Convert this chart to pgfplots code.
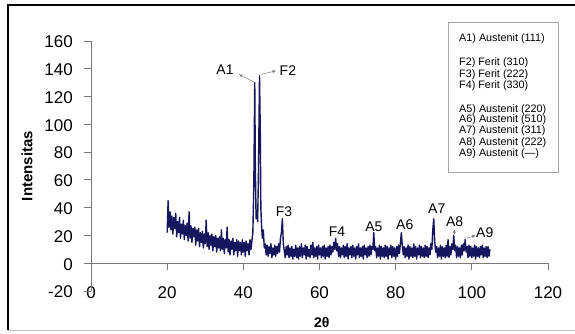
\documentclass[border=0pt]{standalone}
\usepackage{pgfplots}
\pgfplotsset{compat=1.18}
\usepackage{fontspec}
\setmainfont{Liberation Sans}
\usetikzlibrary{arrows.meta}
\definecolor{navy}{RGB}{22,22,95}
\definecolor{axgray}{RGB}{120,120,120}
\begin{document}
\begin{tikzpicture}
\begin{axis}[
  scale only axis, width=457pt, height=250pt,
  xmin=0, xmax=120, ymin=-20, ymax=160,
  axis line style={draw=none},
  major tick length=0pt,
  xtick={0,20,...,120}, ytick={-20,0,...,160},
  /pgf/number format/assume math mode=true,
  ticklabel style={font=\fontsize{17}{19}\selectfont},
  yticklabel style={anchor=east, inner sep=0pt, xshift=-18pt, yshift=-1pt},
  xticklabel style={anchor=center, inner sep=0pt, yshift=-2pt},
  xlabel={\textbf{2θ}},
  xlabel style={at={(axis description cs:0.505,-0.124)}, anchor=center, font=\fontsize{14}{16}\selectfont},
  ylabel={\textbf{Intensitas}},
  ylabel style={at={(axis description cs:-0.14,0.5)}, anchor=center, font=\fontsize{15}{17}\selectfont},
  clip=false,
]
% axis lines (Excel style)
\draw[axgray, line width=0.8pt] (axis cs:0,-20) -- (axis cs:0,160);
\draw[axgray, line width=0.8pt] (axis cs:0,0) -- (axis cs:120,0);
\pgfplotsinvokeforeach{-20,0,20,40,60,80,100,120,140,160}{ \draw[axgray, line width=0.8pt] (axis cs:0,#1) -- ++(-7pt,0pt); }
\pgfplotsinvokeforeach{20,40,60,80,100,120}{ \draw[axgray, line width=0.8pt] (axis cs:#1,0) -- ++(0pt,-7pt); }

\addplot[navy, line width=1.4pt, mark=none, line join=round] coordinates {
(20.00,22) (20.25,45) (20.50,26) (20.75,37) (21.00,24) (21.25,34) (21.50,21) (21.75,33)
(22.00,25) (22.25,36) (22.50,19) (22.75,30) (23.00,22) (23.25,33) (23.50,18) (23.75,28)
(24.00,21) (24.25,31) (24.50,17) (24.75,27) (25.00,20) (25.25,29) (25.50,16) (25.75,37)
(26.00,18) (26.25,27) (26.50,15) (26.75,25) (27.00,19) (27.25,26) (27.50,13) (27.75,24)
(28.00,16) (28.25,25) (28.50,12) (28.75,22) (29.00,15) (29.25,23) (29.50,11) (29.75,21)
(30.00,14) (30.25,31) (30.50,12) (30.75,22) (31.00,10) (31.25,20) (31.50,13) (31.75,21)
(32.00,9) (32.25,19) (32.50,12) (32.75,20) (33.00,8) (33.25,18) (33.50,11) (33.75,19)
(34.00,9) (34.25,24) (34.50,10) (34.75,18) (35.00,7) (35.25,17) (35.50,11) (35.75,26)
(36.00,8) (36.25,17) (36.50,6) (36.75,16) (37.00,10) (37.25,18) (37.50,6) (37.75,15)
(38.00,9) (38.25,17) (38.50,5) (38.75,16) (39.00,9) (39.25,15) (39.50,6) (39.75,17)
(40.00,8) (40.25,15) (40.50,5) (40.75,16) (41.00,9) (41.25,14) (41.50,6) (41.75,17)
(42.00,10) (42.25,16) (42.50,22) (42.75,55) (43.00,130) (43.15,70) (43.35,32) (43.55,38)
(43.75,30) (43.95,60) (44.25,135) (44.45,95) (44.60,40) (44.80,26) (45.00,18) (45.25,24)
(45.50,11) (45.75,14) (46.00,6) (46.25,13) (46.50,5) (46.75,12) (47.00,7) (47.25,14)
(47.50,4) (47.75,11) (48.00,6) (48.25,13) (48.50,5) (48.75,12) (49.00,7) (49.25,14)
(49.50,8) (49.75,18) (50.00,22) (50.25,32) (50.50,14) (50.75,9) (51.00,4) (51.25,12)
(51.50,6) (51.75,13) (52.00,4) (52.25,11) (52.50,5) (52.75,12) (53.00,3) (53.25,10)
(53.50,5) (53.75,13) (54.00,4) (54.25,11) (54.50,3) (54.75,12) (55.00,5) (55.25,14)
(55.50,4) (55.75,11) (56.00,6) (56.25,13) (56.50,3) (56.75,12) (57.00,5) (57.25,10)
(57.50,4) (57.75,13) (58.00,6) (58.25,15) (58.50,4) (58.75,11) (59.00,5) (59.25,12)
(59.50,3) (59.75,13) (60.00,6) (60.25,11) (60.50,4) (60.75,12) (61.00,5) (61.25,13)
(61.50,3) (61.75,11) (62.00,5) (62.25,12) (62.50,4) (62.75,13) (63.00,6) (63.25,12)
(63.50,8) (63.75,15) (64.00,10) (64.25,18) (64.50,9) (64.75,14) (65.00,5) (65.25,12)
(65.50,4) (65.75,11) (66.00,6) (66.25,13) (66.50,4) (66.75,12) (67.00,5) (67.25,14)
(67.50,3) (67.75,11) (68.00,6) (68.25,12) (68.50,4) (68.75,13) (69.00,5) (69.25,11)
(69.50,3) (69.75,12) (70.00,6) (70.25,14) (70.50,4) (70.75,11) (71.00,5) (71.25,12)
(71.50,3) (71.75,13) (72.00,6) (72.25,11) (72.50,4) (72.75,12) (73.00,5) (73.25,13)
(73.50,6) (73.75,12) (74.00,10) (74.25,22) (74.50,9) (74.75,12) (75.00,4) (75.25,11)
(75.50,5) (75.75,13) (76.00,3) (76.25,12) (76.50,5) (76.75,11) (77.00,4) (77.25,13)
(77.50,5) (77.75,12) (78.00,3) (78.25,11) (78.50,6) (78.75,13) (79.00,4) (79.25,12)
(79.50,5) (79.75,11) (80.00,3) (80.25,12) (80.50,5) (80.75,13) (81.00,7) (81.25,15)
(81.50,22) (81.75,12) (82.00,6) (82.25,12) (82.50,4) (82.75,11) (83.00,5) (83.25,13)
(83.50,3) (83.75,12) (84.00,5) (84.25,11) (84.50,4) (84.75,14) (85.00,5) (85.25,12)
(85.50,3) (85.75,11) (86.00,6) (86.25,13) (86.50,4) (86.75,12) (87.00,5) (87.25,11)
(87.50,4) (87.75,13) (88.00,5) (88.25,12) (88.50,4) (88.75,11) (89.00,6) (89.25,14)
(89.50,10) (89.75,24) (90.00,32) (90.25,16) (90.50,8) (90.75,12) (91.00,4) (91.25,11)
(91.50,5) (91.75,13) (92.00,3) (92.25,12) (92.50,5) (92.75,11) (93.00,4) (93.25,13)
(93.50,5) (93.75,17) (94.00,4) (94.25,12) (94.50,6) (94.75,14) (95.00,10) (95.25,20)
(95.50,9) (95.75,13) (96.00,4) (96.25,12) (96.50,5) (96.75,11) (97.00,4) (97.25,13)
(97.50,6) (97.75,14) (98.00,9) (98.25,17) (98.50,8) (98.75,12) (99.00,4) (99.25,13)
(99.50,5) (99.75,12) (100.00,4) (100.25,11) (100.50,5) (100.75,13) (101.00,3) (101.25,12)
(101.50,5) (101.75,11) (102.00,4) (102.25,12) (102.50,6) (102.75,13) (103.00,4) (103.25,11)
(103.50,5) (103.75,12) (104.00,4) (104.25,12) (104.50,5) (104.75,10)
};

% peak labels
\tikzset{pk/.style={font=\fontsize{14}{16}\selectfont, inner sep=0pt},
         pa/.style={draw=axgray, line width=0.5pt, -{Latex[length=3.5pt,width=3pt]}}}
\node[pk] at (axis cs:35.2,139) {A1};
\draw[pa] (axis cs:42.8,130.5) -- (axis cs:38.8,136);
\node[pk] at (axis cs:51.7,139) {F2};
\draw[pa] (axis cs:44.6,136) -- (axis cs:48.6,138.5);
\node[pk] at (axis cs:50.7,37) {F3};
\node[pk] at (axis cs:64.6,23) {F4};
\node[pk] at (axis cs:74.3,26) {A5};
\node[pk] at (axis cs:82.4,28) {A6};
\node[pk] at (axis cs:90.8,39) {A7};
\node[pk] at (axis cs:95.5,30) {A8};
\draw[pa] (axis cs:95.4,21) -- (axis cs:95.4,24.5);
\node[pk] at (axis cs:103.4,22.3) {A9};
\draw[pa] (axis cs:98.7,18) -- (axis cs:101,20);
\end{axis}

% legend box
\draw[gray!70, line width=0.6pt] (357pt,119pt) rectangle (467pt,269pt);
\begin{scope}[every node/.style={anchor=west, inner sep=0pt, font=\fontsize{10.8}{12}\selectfont}]
\node at (368pt,252pt) {A1) Austenit (111)};
\node at (368pt,228.3pt) {F2) Ferit (310)};
\node at (368pt,216.7pt) {F3) Ferit (222)};
\node at (368pt,205pt) {F4) Ferit (330)};
\node at (368pt,181.7pt) {A5) Austenit (220)};
\node at (368pt,171pt) {A6) Austenit (510)};
\node at (368pt,160pt) {A7) Austenit (311)};
\node at (368pt,148.7pt) {A8) Austenit (222)};
\node at (368pt,137.7pt) {A9) Austenit (---)};
\end{scope}

% outer frame
\draw[black, line width=1.6pt] (-83pt,-39pt) -- (-83pt,286pt) -- (490pt,286pt);
\draw[gray!50, line width=1pt] (-83pt,-39pt) -- (490pt,-39pt);

\pgfresetboundingbox
\useasboundingbox (-91pt,-42pt) rectangle (484pt,291pt);
\end{tikzpicture}
\end{document}
